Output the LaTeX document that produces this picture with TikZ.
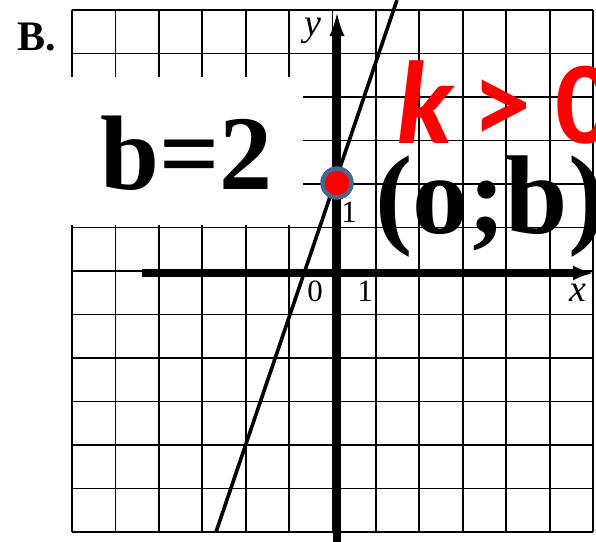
\documentclass[tikz,border=0pt]{standalone}
\usepackage{fontspec}
\setmainfont{Liberation Serif}
\newfontfamily\calfont{Carlito}
\usetikzlibrary{arrows.meta}
\definecolor{ringblue}{RGB}{68,104,148}
\definecolor{kred}{RGB}{255,0,0}
\begin{document}
\begin{tikzpicture}[x=1pt,y=-1pt,
  gridline/.style={line width=1.8pt,black},
  axisline/.style={line width=8pt,black},
  graphline/.style={line width=3.6pt,black},
  lbl/.style={inner sep=0pt,font=\fontsize{31}{31}\selectfont},
  axlbl/.style={inner sep=0pt,font=\fontsize{38}{38}\selectfont\itshape},
  bigtext/.style={inner sep=0pt,anchor=base west},
  redtext/.style={inner sep=0pt,text=kred,font=\fontsize{118}{118}\selectfont\calfont\bfseries}]
\clip (0,0) rectangle (596,541);
\fill[white] (0,0) rectangle (596,541);
% grid
\foreach \k in {0,...,12} \draw[gridline] ({72+43.42*\k},10) -- ({72+43.42*\k},532);
\foreach \k in {0,...,12} \draw[gridline] (72,{10+43.5*\k}) -- (593,{10+43.5*\k});
% white patch for the text b=2
\fill[white] (0,77) rectangle (303,225);
% axes
\coordinate (xs) at (142,273);
\coordinate (xe) at (594,273);
\coordinate (ys) at (337,545);
\coordinate (ye) at (337,10);
\draw[axisline,-{Latex[length=21pt,width=15pt]}] (xs) -- (xe);
\draw[axisline,-{Latex[length=26pt,width=15pt]}] (ys) -- (ye);
% graph line
\coordinate (la) at (216,532);
\coordinate (lb) at (397,0);
\draw[graphline] (la) -- (lb);
% axis labels
\node[axlbl] (ylab) at (313,31) {y};
\node[axlbl] (xlab) at (578,293) {x};
\node[lbl] (zero) at (315,291) {0};
\node[lbl] (onex) at (365,291) {1};
\node[lbl] (oney) at (349,212) {1};
% label B.
\node[bigtext,font=\fontsize{42}{42}\selectfont\bfseries] (blab) at (17,50) {В.};
% b=2
\node[bigtext,font=\fontsize{106}{106}\selectfont\bfseries] (beq) at (100,189) {b=2};
% (o;b)
\node[bigtext,font=\fontsize{112}{112}\selectfont\bfseries] (ob) at (375,233) {(o;b)};
% k > 0
\node[redtext,anchor=base west] (kk) at (396,143) {\textit{k}};
\node[redtext,anchor=base] (gt) at (501.5,143) {>};
\node[redtext,anchor=base] (zr) at (585,143) {0};
% point
\node[circle,fill=red,draw=ringblue,line width=4.5pt,minimum size=29pt,inner sep=0pt] (dot) at (337,183) {};
\end{tikzpicture}
\end{document}
